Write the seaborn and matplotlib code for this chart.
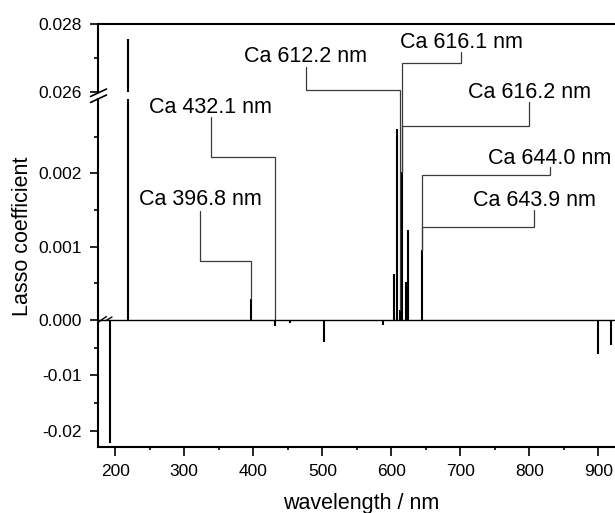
import matplotlib
matplotlib.use("Agg")
import matplotlib.pyplot as plt
import seaborn as sns
import pandas as pd
from matplotlib.lines import Line2D
from matplotlib.ticker import FixedLocator, FixedFormatter, NullFormatter

# ---------------- data ----------------
wavelength = [192.3, 218.4, 396.8, 432.1, 453.5, 502.6, 588.3, 604.0, 607.6,
              612.2, 615.8, 620.7, 624.8, 643.9, 899.0, 918.4]
coefficient = [-0.0222, 0.02755, 0.00029, -0.0011, -0.0005, -0.0039, -0.0009,
               0.00063, 0.00260, 0.00013, 0.00202, 0.00052, 0.00123, 0.00096,
               -0.0062, -0.0045]

line_labels = ["Ca 396.8 nm", "Ca 432.1 nm", "Ca 612.2 nm", "Ca 616.1 nm",
               "Ca 616.2 nm", "Ca 644.0 nm", "Ca 643.9 nm"]
line_wavelength = [396.8, 432.1, 612.2, 616.1, 616.2, 644.0, 643.9]
line_target = [0.00029, 0.0, 0.00013, 0.00202, 0.00202, 0.00096, 0.00096]

x_ticks = [200, 300, 400, 500, 600, 700, 800, 900]
x_tick_labels = ["200", "300", "400", "500", "600", "700", "800", "900"]
top_ticks = [0.026, 0.028]
top_tick_labels = ["0.026", "0.028"]
mid_ticks = [0.000, 0.001, 0.002]
mid_tick_labels = ["0.000", "0.001", "0.002"]
bot_ticks = [-0.02, -0.01]
bot_tick_labels = ["-0.02", "-0.01"]

x_label = "wavelength / nm"
y_label = "Lasso coefficient"

# ---------------- layout (annotation placement, middle-axis units) ----------
# text x, text baseline, leader top, leader elbow
ann_layout = [
    (322.8, 0.001569, 0.001487, 0.000801),
    (338.0, 0.002824, 0.002774, 0.002228),
    (475.7, 0.003520, 0.003456, 0.003138),
    (701.5, 0.003711, 0.003660, 0.003510),
    (799.6, 0.003029, 0.002978, 0.002647),
    (830.0, 0.002135, 0.002087, 0.001978),
    (807.0, 0.001555, 0.001501, 0.001273),
]

df = pd.DataFrame({"wavelength": wavelength, "coefficient": coefficient})

sns.set_theme(style="ticks")
plt.rcParams["font.family"] = ["Liberation Sans", "DejaVu Sans"]
plt.rcParams["axes.unicode_minus"] = False

W, H = 615, 513
fig = plt.figure(figsize=(W / 100, H / 100), dpi=100)


def frac(l, t, r, b):
    return [l / W, 1 - b / H, (r - l) / W, (b - t) / H]


ax_top = fig.add_axes(frac(97.7, 24, 615, 92))
ax_mid = fig.add_axes(frac(97.7, 99, 615, 320))
ax_bot = fig.add_axes(frac(97.7, 320, 615, 447.3))

xlim = (174.5, 924.2)
SPW = 1.5
for ax in (ax_top, ax_mid, ax_bot):
    ax.set_facecolor("none")
    ax.set_xlim(*xlim)
    ax.vlines(df["wavelength"], 0, df["coefficient"], color="black", lw=1.5)
    for s in ax.spines.values():
        s.set_linewidth(SPW)
        s.set_color("black")
    ax.tick_params(axis="y", which="major", direction="out", length=5.8,
                   width=1.2, pad=5.5, labelsize=12.5, colors="black")
    ax.tick_params(axis="y", which="minor", direction="out", length=2.8,
                   width=1.2, colors="black")
    ax.grid(False)

ax_top.set_ylim(0.026, 0.028)
ax_mid.set_ylim(0, (320 - 99) / 73300)
ax_bot.set_ylim(-(447.3 - 320) / 5535, 0)

# spines
ax_top.spines["right"].set_visible(False)
ax_top.spines["bottom"].set_visible(False)
ax_mid.spines["right"].set_visible(False)
ax_mid.spines["bottom"].set_visible(False)
ax_mid.spines["top"].set_visible(False)
ax_bot.spines["right"].set_visible(False)
ax_bot.spines["top"].set_linewidth(1.0)

# y ticks
ax_top.yaxis.set_major_locator(FixedLocator(top_ticks))
ax_top.yaxis.set_major_formatter(FixedFormatter(top_tick_labels))
ax_top.yaxis.set_minor_locator(FixedLocator([0.027]))
ax_mid.yaxis.set_major_locator(FixedLocator(mid_ticks))
ax_mid.yaxis.set_major_formatter(FixedFormatter(mid_tick_labels))
ax_mid.yaxis.set_minor_locator(FixedLocator([0.0005, 0.0015, 0.0025]))
ax_bot.yaxis.set_major_locator(FixedLocator(bot_ticks))
ax_bot.yaxis.set_major_formatter(FixedFormatter(bot_tick_labels))
ax_bot.yaxis.set_minor_locator(FixedLocator([-0.015, -0.005]))

# x ticks
for ax in (ax_top, ax_mid):
    ax.set_xticks([])
    ax.tick_params(axis="x", which="both", length=0)
ax_bot.xaxis.set_major_locator(FixedLocator(x_ticks))
ax_bot.xaxis.set_major_formatter(FixedFormatter(x_tick_labels))
ax_bot.xaxis.set_minor_locator(FixedLocator([t + 50 for t in x_ticks]))
ax_bot.xaxis.set_minor_formatter(NullFormatter())
ax_bot.tick_params(axis="x", which="major", direction="out", length=6.3,
                   width=1.2, pad=5.5, labelsize=12.5, colors="black")
ax_bot.tick_params(axis="x", which="minor", direction="out", length=2.5,
                   width=1.2, colors="black")

# annotations with elbow leader lines
for lab, wl, tgt, (tx, tb, ltop, elb) in zip(line_labels, line_wavelength,
                                              line_target, ann_layout):
    ax_mid.text(tx, tb, lab, ha="center", va="baseline", fontsize=15.5,
                color="black", clip_on=False, zorder=6)
    ax_mid.plot([tx, tx, wl, wl], [ltop, elb, elb, tgt], color="#3a3a3a",
                lw=0.9, clip_on=False, zorder=5, solid_joinstyle="miter")


# axis break marks (figure pixel coords)
def px_line(x0, y0, x1, y1, lw=1.2):
    fig.add_artist(Line2D([x0 / W, x1 / W], [1 - y0 / H, 1 - y1 / H],
                          transform=fig.transFigure, color="black", lw=lw))


px_line(90.5, 96.5, 106.5, 89.0)
px_line(90.5, 102.5, 106.5, 95.0)
px_line(98.5, 322.0, 106.5, 316.5, lw=1.0)
px_line(106.0, 320.5, 112.0, 317.0, lw=1.0)

# axis labels
fig.text(22.5 / W, 1 - 236 / H, y_label, rotation=90, ha="center",
         va="center", fontsize=15.5, color="black")
fig.text(361 / W, 1 - 503 / H, x_label, ha="center", va="center",
         fontsize=15.5, color="black")

fig.savefig("out.png", dpi=100)
